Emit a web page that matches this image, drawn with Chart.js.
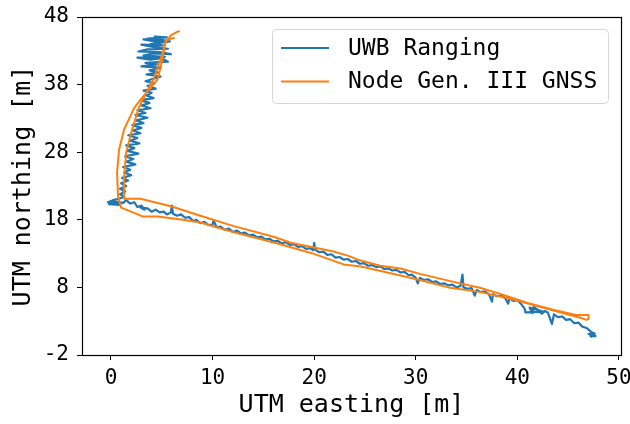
<!DOCTYPE html>
<html>
<head>
<meta charset="utf-8">
<script src="https://cdn.jsdelivr.net/npm/chart.js@4/dist/chart.umd.min.js"></script>
<style>
  html, body { margin: 0; padding: 0; background: #fff; }
  #wrap { width: 630px; height: 424px; }
</style>
</head>
<body>
<div id="wrap"><canvas id="chart" width="630" height="424"></canvas></div>
<script>
// UWB ranging track (easting / northing, metres)
const uwbEast = [
  // scribble at the north end
  4.3, 5.5, 3.6, 5.2, 3.2, 4.6, 5.8, 3.9, 5.1, 3.0, 4.4, 5.6, 3.5, 2.7, 4.8, 5.9,
  4.1, 3.2, 5.3, 2.6, 3.9, 5.0, 5.6, 3.4, 4.5, 3.0, 4.9, 3.8, 4.6, 3.5, 4.9, 4.0,
  // heading south
  3.4, 4.3, 3.6, 4.4, 3.2, 4.0, 3.5, 4.2, 2.9, 3.8, 3.0, 3.9, 2.6, 3.4, 2.4, 3.6,
  2.5, 3.2, 2.1, 3.0, 2.2, 2.9, 1.7, 2.6, 1.9, 2.8, 1.5, 2.3, 1.6, 2.7, 1.4, 2.2,
  1.5, 2.4, 1.2, 1.9, 1.3, 2.0, 1.1, 1.7, 1.0, 1.5, 0.9, 1.4, 0.9, 1.3, 0.8,
  // corner blob
  0.2, -0.3, 0.6, -0.2, 0.9, 0.1, 1.2,
  // heading east
  1.5, 1.9, 2.3, 2.6, 3.0, 3.3, 2.9, 3.6, 4.0, 4.4, 4.8, 5.2, 5.5, 5.9, 6.0, 6.1,
  6.5, 6.9, 7.3, 7.7, 8.1, 8.4, 8.8, 9.2, 9.6, 10.0, 10.1, 10.4, 10.8, 11.2, 11.6, 12.0,
  12.4, 12.8, 13.2, 13.6, 14.0, 14.4, 14.8, 15.2, 15.6, 16.0, 16.4, 16.8, 17.2, 17.6, 18.0,
  18.4, 18.8, 19.2, 19.6, 19.9, 20.0, 20.1, 20.5, 20.9, 21.3, 21.7, 22.1, 22.5, 22.9, 23.3,
  23.7, 24.1, 24.5, 24.9, 25.3, 25.7, 26.1, 26.5, 26.9, 27.3, 27.7, 28.1, 28.5, 28.9, 29.3,
  29.6, 30.0, 30.2, 30.4, 30.8, 31.2, 31.6, 32.0, 32.4, 32.8, 33.2, 33.6, 34.0, 34.4, 34.6,
  34.7, 35.1, 35.5, 35.8, 36.0, 36.4, 36.8, 37.2, 37.5, 37.6, 38.0, 38.4, 38.8, 39.1, 39.2,
  39.6, 40.0, 40.4, 40.7, 40.8, 42.6, 41.2, 41.5, 41.6, 42.0, 42.4, 42.7, 43.0, 43.4, 43.6,
  44.0, 44.4, 44.8, 45.2, 45.6, 46.0, 46.4, 46.8, 47.2, 47.6, 47.2, 47.7, 47.0, 47.6, 47.3
];
const uwbNorth = [
  45.1, 45.0, 44.8, 44.6, 44.7, 44.3, 44.4, 44.0, 43.8, 43.9, 43.5, 43.3, 43.2, 42.9, 42.8, 42.5,
  42.6, 42.3, 42.1, 42.0, 41.7, 41.9, 41.4, 41.2, 41.0, 40.7, 40.5, 40.1, 39.8, 39.5, 39.2, 38.8,
  38.5, 38.2, 37.8, 37.4, 37.1, 36.8, 36.4, 36.0, 35.7, 35.3, 34.9, 34.5, 34.2, 33.8, 33.5, 33.1,
  32.7, 32.3, 32.0, 31.6, 31.2, 30.8, 30.5, 30.1, 29.7, 29.3, 29.0, 28.6, 28.2, 27.8, 27.4, 27.0,
  26.6, 26.2, 25.8, 25.4, 25.0, 24.6, 24.2, 23.8, 23.4, 23.0, 22.6, 22.2, 21.8, 21.4, 21.1,
  20.9, 20.6, 20.4, 20.3, 20.2, 20.7, 20.5,
  20.9, 20.4, 20.6, 19.9, 20.1, 19.5, 19.8, 19.7, 19.2, 19.5, 19.1, 19.2, 18.8, 19.1, 20.1, 18.9,
  18.6, 18.8, 18.3, 18.4, 17.8, 18.0, 17.5, 17.7, 17.2, 17.3, 17.9, 16.9, 17.0, 16.5, 16.7, 16.2,
  16.4, 16.0, 16.1, 15.7, 15.8, 15.4, 15.5, 15.1, 15.2, 14.8, 14.9, 14.5, 14.7, 14.3, 14.4,
  14.0, 14.1, 13.7, 13.8, 13.5, 14.6, 13.6, 13.2, 13.3, 12.8, 12.9, 12.4, 12.5, 12.1, 12.2,
  11.8, 11.9, 11.5, 11.6, 11.2, 11.3, 11.0, 11.1, 10.7, 10.8, 10.5, 10.6, 10.2, 10.3, 9.8,
  9.9, 9.4, 8.6, 9.4, 9.1, 9.2, 8.8, 8.9, 8.5, 8.6, 8.3, 8.4, 8.0, 8.2, 9.9,
  8.0, 7.8, 7.9, 6.8, 7.6, 7.3, 7.4, 7.0, 5.9, 7.0, 6.7, 6.8, 6.4, 5.6, 6.4,
  6.0, 6.1, 5.5, 4.9, 4.3, 4.4, 5.0, 4.2, 5.1, 4.7, 4.1, 4.5, 4.3, 2.6, 4.0,
  3.6, 3.7, 3.2, 3.3, 2.7, 2.8, 2.2, 2.0, 1.5, 1.1, 0.8, 0.8, 1.1, 1.2, 0.7
];

// Node Gen. III GNSS track
const gnssEast = [
  6.2, 5.4, 5.0, 4.6, 3.2, 2.3, 1.3, 0.8, 0.6, 0.7, 1.0, 3.1, 4.6, 7.1, 8.8, 12.0,
  16.4, 19.7, 22.9, 24.6, 27.2, 30.4, 33.2, 36.4, 39.6, 43.0, 46.2, 46.8, 47.0, 47.0,
  45.9, 43.5, 41.0, 38.4, 36.4, 33.2, 30.4, 28.5, 26.5, 24.3, 23.3, 21.9, 17.7, 16.0,
  12.0, 8.8, 5.9, 2.9, 1.3, 1.3, 1.5, 2.0, 2.7, 3.4, 4.2, 4.9, 5.4, 5.9, 6.5, 6.7
];
const gnssNorth = [
  44.9, 44.6, 41.3, 38.8, 36.3, 34.6, 31.4, 28.4, 25.0, 21.4, 19.8, 18.5, 18.5, 18.0, 17.6, 16.2,
  14.5, 13.1, 11.4, 11.1, 10.2, 9.1, 8.0, 7.3, 6.2, 4.8, 3.5, 3.2, 3.3, 3.9,
  3.9, 4.7, 5.7, 7.0, 7.9, 9.0, 10.0, 10.8, 11.2, 12.1, 12.7, 13.3, 14.6, 15.5,
  17.1, 18.6, 20.0, 21.1, 21.1, 24.4, 28.0, 30.9, 34.4, 36.6, 38.8, 41.8, 44.3, 45.3, 45.8, 45.9
];

const seriesLabels = ['UWB Ranging', 'Node Gen. III GNSS'];
const xTicks = [0, 10, 20, 30, 40, 50];
const yTicks = [-2, 8, 18, 28, 38, 48];

const toPoints = (xs, ys) => xs.map((x, i) => ({ x: x, y: ys[i] }));

const FONT = "'DejaVu Sans Mono', monospace";
const BLUE = '#1f77b4';
const ORANGE = '#ff7f0e';

// full box around the plot area
const frame = {
  id: 'frame',
  afterDatasetsDraw(chart) {
    const a = chart.chartArea;
    const ctx = chart.ctx;
    ctx.save();
    ctx.strokeStyle = '#000';
    ctx.lineWidth = 1.2;
    ctx.strokeRect(Math.round(a.left) + 0.5, Math.round(a.top) + 0.5,
      Math.round(a.right - a.left), Math.round(a.bottom - a.top));
    ctx.restore();
  }
};

// matplotlib-style legend box in the upper right corner
const boxLegend = {
  id: 'boxLegend',
  afterDraw(chart) {
    const a = chart.chartArea;
    const ctx = chart.ctx;
    const w = 336, h = 74;
    const x0 = a.right - 13 - w, y0 = a.top + 12;
    ctx.save();
    ctx.beginPath();
    ctx.roundRect(x0 + 0.5, y0 + 0.5, w, h, 4);
    ctx.fillStyle = 'rgba(255,255,255,0.8)';
    ctx.fill();
    ctx.strokeStyle = '#d6d6d6';
    ctx.lineWidth = 1;
    ctx.stroke();
    ctx.font = '23px ' + FONT;
    ctx.textBaseline = 'middle';
    ctx.fillStyle = '#000';
    chart.data.datasets.forEach((ds, i) => {
      const y = y0 + 19 + i * 33.5;
      ctx.beginPath();
      ctx.moveTo(x0 + 9, y);
      ctx.lineTo(x0 + 57, y);
      ctx.strokeStyle = ds.borderColor;
      ctx.lineWidth = 2;
      ctx.stroke();
      ctx.fillText(ds.label, x0 + 76, y + 1);
    });
    ctx.restore();
  }
};

new Chart(document.getElementById('chart').getContext('2d'), {
  type: 'scatter',
  data: {
    datasets: [{
      label: seriesLabels[0],
      data: toPoints(uwbEast, uwbNorth),
      showLine: true,
      borderColor: BLUE,
      backgroundColor: BLUE,
      borderWidth: 2.2,
      borderJoinStyle: 'round',
      borderCapStyle: 'round',
      pointRadius: 0,
      tension: 0,
      order: 1
    }, {
      label: seriesLabels[1],
      data: toPoints(gnssEast, gnssNorth),
      showLine: true,
      borderColor: ORANGE,
      backgroundColor: ORANGE,
      borderWidth: 2,
      borderJoinStyle: 'round',
      borderCapStyle: 'round',
      pointRadius: 0,
      tension: 0,
      order: 0
    }]
  },
  options: {
    responsive: false,
    animation: false,
    events: [],
    layout: { padding: { top: 17, right: 9, left: 0, bottom: 0 } },
    plugins: {
      legend: { display: false },
      tooltip: { enabled: false }
    },
    scales: {
      x: {
        type: 'linear',
        min: -2.85,
        max: 50.2,
        afterBuildTicks: s => { s.ticks = xTicks.map(v => ({ value: v })); },
        afterFit: s => { s.height = 69; s.paddingLeft = 0; s.paddingRight = 0; },
        grid: { drawOnChartArea: false, drawTicks: true, tickLength: 5, color: '#000' },
        border: { display: true, color: '#000', width: 1 },
        ticks: { color: '#000', font: { family: FONT, size: 21 }, padding: 6, maxRotation: 0 },
        title: {
          display: true,
          text: 'UTM easting [m]',
          color: '#000',
          font: { family: FONT, size: 25 },
          padding: { top: 0, bottom: 4 }
        }
      },
      y: {
        type: 'linear',
        min: -2,
        max: 48,
        afterBuildTicks: s => { s.ticks = yTicks.map(v => ({ value: v })); },
        afterFit: s => { s.width = 82; s.paddingTop = 0; s.paddingBottom = 0; },
        grid: { drawOnChartArea: false, drawTicks: true, tickLength: 5, color: '#000' },
        border: { display: true, color: '#000', width: 1 },
        ticks: { color: '#000', font: { family: FONT, size: 21 }, padding: 8 },
        title: {
          display: true,
          text: 'UTM northing [m]',
          color: '#000',
          font: { family: FONT, size: 25 },
          padding: { top: 8, bottom: 0 }
        }
      }
    }
  },
  plugins: [frame, boxLegend]
});
</script>
</body>
</html>
